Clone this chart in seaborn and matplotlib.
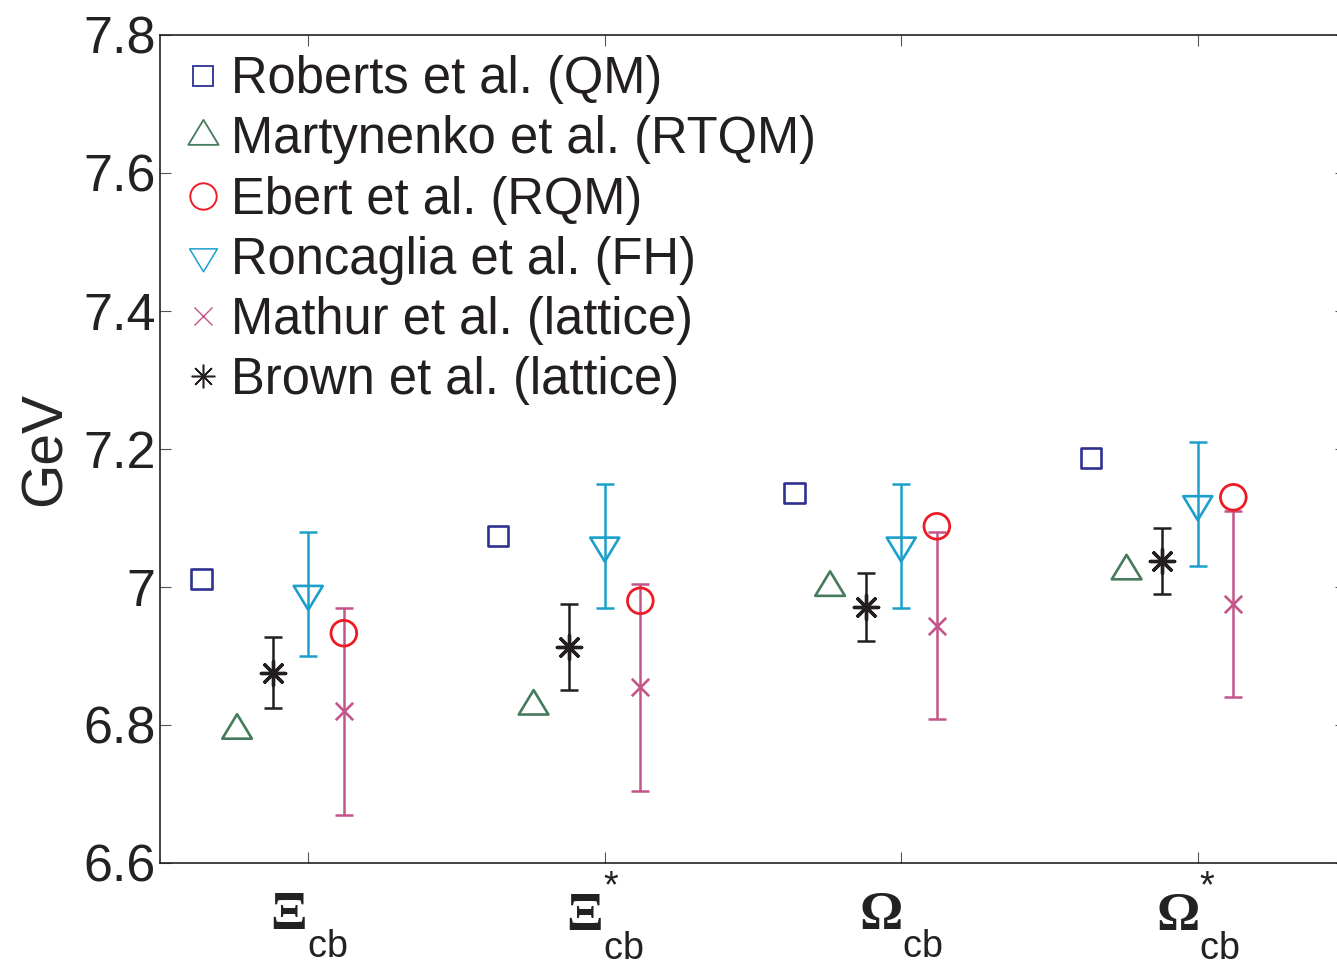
import numpy as np
import pandas as pd
import matplotlib
matplotlib.use("Agg")
import matplotlib.pyplot as plt
import seaborn as sns
from matplotlib.path import Path
from matplotlib.lines import Line2D

# ---------------- data ----------------
categories = [r"$\Xi_{\mathsf{cb}}$", r"$\Xi^{\mathsf{*}}_{\mathsf{cb}}$",
              r"$\Omega_{\mathsf{cb}}$", r"$\Omega^{\mathsf{*}}_{\mathsf{cb}}$"]
roberts = [7.011, 7.074, 7.136, 7.187]
martynenko = [6.792, 6.827, 6.999, 7.023]
ebert = [6.933, 6.980, 7.088, 7.130]
roncaglia = [6.99, 7.06, 7.06, 7.12]
roncaglia_err = [0.09, 0.09, 0.09, 0.09]
mathur = [6.82, 6.855, 6.944, 6.975]
mathur_err = [0.15, 0.15, 0.135, 0.135]
brown = [6.876, 6.913, 6.971, 7.038]
brown_err = [0.052, 0.062, 0.049, 0.048]
yticks = [6.6, 6.8, 7.0, 7.2, 7.4, 7.6, 7.8]
yticklabels = ["6.6", "6.8", "7", "7.2", "7.4", "7.6", "7.8"]

labels = ["Roberts et al. (QM)", "Martynenko et al. (RTQM)", "Ebert et al. (RQM)",
          "Roncaglia et al. (FH)", "Mathur et al. (lattice)", "Brown et al. (lattice)"]

# ---------------- style ----------------
sns.set_theme(style="ticks")
plt.rcParams["font.family"] = ["Liberation Sans", "DejaVu Sans"]
plt.rcParams["mathtext.fontset"] = "custom"
plt.rcParams["mathtext.rm"] = "Liberation Serif:bold"
plt.rcParams["mathtext.sf"] = "Liberation Sans"
plt.rcParams["mathtext.it"] = "Liberation Serif:italic"

# deeper subscripts / higher superscripts, as in the original labels
try:
    from matplotlib import _mathtext as _mt
    _mt.FontConstantsBase.sub1 = 1.15
    _mt.FontConstantsBase.sub2 = 1.15
    _mt.FontConstantsBase.sup1 = 1.3
except Exception:
    pass

c_rob = "#2E3192"
c_mar = "#457A5C"
c_ebe = "#ED1C24"
c_ron = "#1BA0CB"
c_mat = "#C4558A"
c_bro = "#231F20"

# centroid-centred triangles (as drawn by the original software)
h = 1.65
tri_up = Path([(-1, -h / 3), (1, -h / 3), (0, 2 * h / 3), (-1, -h / 3)],
              [Path.MOVETO, Path.LINETO, Path.LINETO, Path.CLOSEPOLY])
tri_dn = Path([(-1, h / 3), (1, h / 3), (0, -2 * h / 3), (-1, h / 3)],
              [Path.MOVETO, Path.LINETO, Path.LINETO, Path.CLOSEPOLY])
star8 = (8, 2, 0)

fig = plt.figure(figsize=(13.37, 9.66), dpi=100)
ax = fig.add_axes([160 / 1337, 1 - 863 / 966, 1186 / 1337, 828 / 966])

xpos = np.arange(1, len(categories) + 1)
off = {"rob": -0.36, "mar": -0.24, "bro": -0.12, "ron": 0.0, "ebe": 0.12, "mat": 0.12}

# error bars
eb_kw = dict(fmt="none", elinewidth=1.8, capsize=6.5, capthick=1.8, zorder=2)
ax.errorbar(xpos + off["bro"], brown, yerr=brown_err, ecolor=c_bro, **eb_kw)
ax.errorbar(xpos + off["ron"], roncaglia, yerr=roncaglia_err, ecolor=c_ron, **eb_kw)
ax.errorbar(xpos + off["mat"], mathur, yerr=mathur_err, ecolor=c_mat, **eb_kw)

def markers(key, vals, marker, color, size, filled=True, lw=1.9):
    df = pd.DataFrame({"x": xpos + off[key], "y": vals})
    if filled:
        sns.scatterplot(data=df, x="x", y="y", marker=marker, s=size ** 2,
                        facecolors="none", edgecolors=color, linewidths=lw,
                        ax=ax, zorder=3, legend=False)
    else:
        sns.scatterplot(data=df, x="x", y="y", marker=marker, s=size ** 2,
                        color=color, linewidths=lw, ax=ax, zorder=3, legend=False)

markers("rob", roberts, "s", c_rob, 14.5)
markers("mar", martynenko, tri_up, c_mar, 23.5)
markers("bro", brown, star8, c_bro, 17.5, filled=False, lw=2.4)
markers("ron", roncaglia, tri_dn, c_ron, 23)
markers("ebe", ebert, "o", c_ebe, 18.5, lw=2.0)
markers("mat", mathur, "x", c_mat, 12.5, filled=False)

ax.set_xlim(0.5, 4.5)
ax.set_ylim(6.6, 7.8)
ax.set_xticks(xpos)
ax.set_xticklabels(categories, fontsize=39)
for lab in ax.get_xticklabels():
    lab.set_verticalalignment("baseline")
ax.set_yticks(yticks)
ax.set_yticklabels(yticklabels, fontsize=37.5)
ax.set_xlabel("")
ax.set_ylabel("GeV", fontsize=41, labelpad=8)
ax.tick_params(axis="both", direction="in", length=8, width=0.8, color="#555555",
               top=True, right=True, colors="#222222")
ax.tick_params(axis="y", pad=3)
ax.tick_params(axis="x", pad=48)
for sp in ax.spines.values():
    sp.set_linewidth(1.2)
    sp.set_color("#222222")

handles = [
    Line2D([], [], ls="none", marker="s", ms=14.5, mfc="none", mec=c_rob, mew=1.3),
    Line2D([], [], ls="none", marker=tri_up, ms=24, mfc="none", mec=c_mar, mew=1.3),
    Line2D([], [], ls="none", marker="o", ms=19, mfc="none", mec=c_ebe, mew=1.4),
    Line2D([], [], ls="none", marker=tri_dn, ms=22, mfc="none", mec=c_ron, mew=1.1),
    Line2D([], [], ls="none", marker="x", ms=13, color=c_mat, mew=1.0),
    Line2D([], [], ls="none", marker=star8, ms=17, color=c_bro, mew=1.1),
]
leg = ax.legend(handles, labels, loc="upper left", frameon=False, fontsize=36.5,
                handlelength=0.6, handletextpad=0.27, labelspacing=0.22,
                borderaxespad=0.0, bbox_to_anchor=(0.006, 1.0))
for t in leg.get_texts():
    t.set_color("#231F20")

fig.savefig("out.png", dpi=100)
